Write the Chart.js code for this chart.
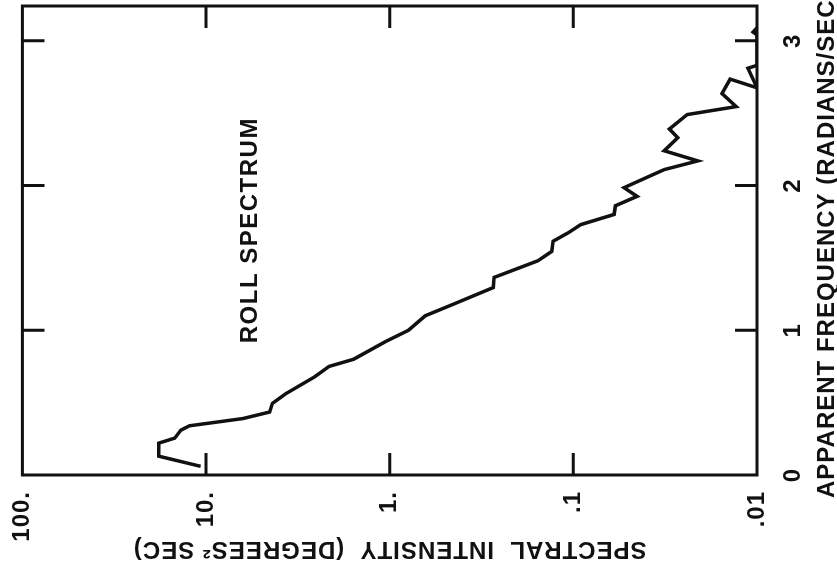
<!DOCTYPE html>
<html>
<head>
<meta charset="utf-8">
<title>Roll spectrum</title>
<script src="https://cdn.jsdelivr.net/npm/chart.js@4"></script>
<style>
  html, body { margin: 0; padding: 0; background: #fff; overflow: hidden; }
  /* the chart is drawn upright and then turned a quarter turn, like the scanned page */
  #wrap {
    position: absolute; left: 0; top: 0;
    width: 578px; height: 837px;
    transform-origin: 0 0;
    transform: translate(0, 578px) rotate(-90deg);
  }
</style>
</head>
<body>
<div id="wrap"><canvas id="spectrumChart" width="578" height="837"></canvas></div>
<script>
// apparent frequency (rad/sec) and spectral intensity (deg^2 sec)
const freq = [0.06, 0.13, 0.22, 0.255, 0.31, 0.34, 0.39, 0.435, 0.495, 0.56,
              0.68, 0.75, 0.80, 0.92, 1.00, 1.10, 1.185, 1.295, 1.365, 1.48,
              1.545, 1.615, 1.675, 1.73, 1.80, 1.86, 1.925, 1.985, 2.055, 2.11,
              2.17, 2.24, 2.33, 2.39, 2.49, 2.545, 2.635, 2.735, 2.675, 2.81,
              2.83, 3.04, 3.06, 3.09];
const intensity = [10.7, 18.1, 18.1, 14.8, 13.7, 12.3, 6.3, 4.5, 4.35, 3.7,
                   2.55, 2.14, 1.57, 1.06, 0.79, 0.64, 0.44, 0.273, 0.27, 0.156,
                   0.131, 0.129, 0.106, 0.091, 0.060, 0.059, 0.045, 0.053, 0.040, 0.032,
                   0.021, 0.032, 0.027, 0.030, 0.024, 0.013, 0.0155, 0.014, 0.01, 0.0112,
                   0.01, 0.01, 0.0105, 0.01];

const freqTicks = [0, 1, 2, 3];
const freqLabels = ['0', '1', '2', '3'];
const intensityTicks = [0.01, 0.1, 1, 10, 100];
const intensityLabels = ['.01', '.1', '1.', '10.', '100.'];

const plotTitle = 'ROLL SPECTRUM';
const freqTitle = 'APPARENT FREQUENCY (RADIANS/SEC)';
const intensityTitle = 'SPECTRAL  INTENSITY  (DEGREES² SEC)';

const ink = '#111';
const tickLen = 22;
const fontFamily = '"Liberation Sans", Arial, sans-serif';

Chart.defaults.font.family = fontFamily;
Chart.defaults.font.size = 24;
Chart.defaults.font.weight = 'bold';
Chart.defaults.color = ink;

// box, inward tick marks and the free text
const frame = {
    id: 'frame',
    beforeDraw(chart) {
        // lettering on the original is widely spaced
        chart.ctx.letterSpacing = '1px';
    },
    afterDatasetsDraw(chart) {
        const { ctx, chartArea: a, scales: { x, y } } = chart;
        ctx.save();
        ctx.strokeStyle = ink;
        ctx.lineWidth = 3;
        ctx.strokeRect(a.left, a.top, a.right - a.left, a.bottom - a.top);

        ctx.beginPath();
        freqTicks.forEach(v => {
            const px = x.getPixelForValue(v);
            if (px <= a.left + 2 || px >= a.right - 2) return;
            ctx.moveTo(px, a.top); ctx.lineTo(px, a.top + tickLen);
            ctx.moveTo(px, a.bottom); ctx.lineTo(px, a.bottom - tickLen);
        });
        intensityTicks.forEach(v => {
            const py = y.getPixelForValue(v);
            if (py <= a.top + 2 || py >= a.bottom - 2) return;
            ctx.moveTo(a.left, py); ctx.lineTo(a.left + tickLen, py);
            ctx.moveTo(a.right, py); ctx.lineTo(a.right - tickLen, py);
        });
        ctx.stroke();

        ctx.fillStyle = ink;
        ctx.font = 'bold 24px ' + fontFamily;
        ctx.letterSpacing = '1.5px';
        ctx.textAlign = 'left';
        ctx.textBaseline = 'alphabetic';
        ctx.fillText(plotTitle, x.getPixelForValue(0.91), y.getPixelForValue(5.3));
        // axis title runs past the edge of the page, as on the scan
        ctx.letterSpacing = '1px';
        ctx.fillText(freqTitle, a.left - 23, chart.height - 3);
        ctx.restore();
    }
};

const ctx = document.getElementById('spectrumChart').getContext('2d');
const spectrumChart = new Chart(ctx, {
    type: 'line',
    data: {
        datasets: [{
            data: freq.map((f, i) => ({ x: f, y: intensity[i] })),
            borderColor: ink,
            borderWidth: 3.5,
            pointRadius: 0,
            tension: 0,
            fill: false
        }]
    },
    options: {
        responsive: false,
        animation: false,
        devicePixelRatio: 1,
        layout: { padding: { top: 19, right: 6, bottom: 0, left: 0 } },
        plugins: { legend: { display: false }, tooltip: { enabled: false } },
        scales: {
            x: {
                type: 'linear',
                min: 0,
                max: 3.24,
                grid: { display: false },
                border: { display: false },
                afterBuildTicks: s => { s.ticks = freqTicks.map(v => ({ value: v })); },
                afterFit: s => { s.height = 80; },
                ticks: {
                    autoSkip: false,
                    maxRotation: 0,
                    padding: 14,
                    callback: v => freqLabels[freqTicks.indexOf(v)]
                }
            },
            y: {
                type: 'logarithmic',
                min: 0.01,
                max: 100,
                grid: { display: false },
                border: { display: false },
                afterBuildTicks: s => { s.ticks = intensityTicks.map(v => ({ value: v })); },
                afterFit: s => { s.width = 103; },
                ticks: {
                    autoSkip: false,
                    padding: 8,
                    callback: v => intensityLabels[intensityTicks.indexOf(v)]
                },
                title: {
                    display: true,
                    text: intensityTitle,
                    padding: { top: 15, bottom: 0 }
                }
            }
        }
    },
    plugins: [frame]
});
</script>
</body>
</html>
